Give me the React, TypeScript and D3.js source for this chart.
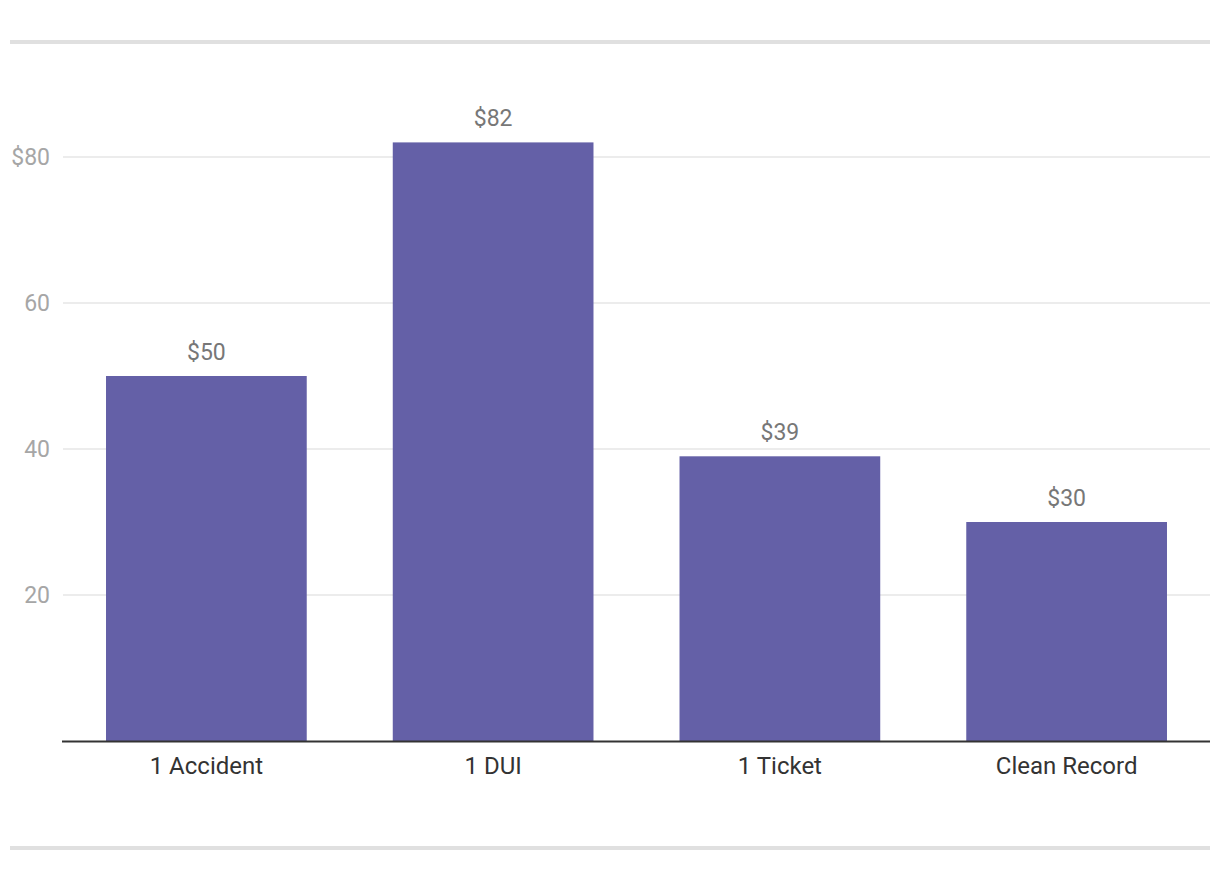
import React, { useEffect, useRef } from 'react';
import * as d3 from 'd3';

const categories = ['1 Accident', '1 DUI', '1 Ticket', 'Clean Record'];
const values = [50, 82, 39, 30];
const yTicks = [20, 40, 60, 80];

const App: React.FC = () => {
  const svgRef = useRef<SVGSVGElement>(null);

  useEffect(() => {
    if (!svgRef.current) return;
    const width = 1220;
    const height = 880;
    const svg = d3.select(svgRef.current);
    svg.selectAll('*').remove();

    const left = 63;
    const right = 1210;
    const baseY = 741;

    const x = d3.scaleBand<string>()
      .domain(categories)
      .range([left, right])
      .paddingInner(0.3)
      .paddingOuter(0.15);

    const y = d3.scaleLinear()
      .domain([0, 80])
      .range([baseY, 157]);

    // top and bottom rules
    svg.append('rect').attr('x', 10).attr('y', 40).attr('width', 1200).attr('height', 4).attr('fill', '#e0e0e0');
    svg.append('rect').attr('x', 10).attr('y', 846).attr('width', 1200).attr('height', 4).attr('fill', '#e0e0e0');

    // gridlines
    svg.append('g')
      .selectAll('line')
      .data(yTicks)
      .join('line')
      .attr('x1', left)
      .attr('x2', right)
      .attr('y1', d => y(d))
      .attr('y2', d => y(d))
      .attr('stroke', '#e6e6e6')
      .attr('stroke-width', 1.5);

    // y labels
    svg.append('g')
      .selectAll('text')
      .data(yTicks)
      .join('text')
      .attr('x', 50)
      .attr('y', d => y(d))
      .attr('dy', '0.35em')
      .attr('text-anchor', 'end')
      .attr('font-family', 'Roboto, sans-serif')
      .attr('font-size', 23)
      .attr('fill', '#a6a6a6')
      .text(d => (d === 80 ? `$${d}` : `${d}`));

    // bars
    svg.append('g')
      .selectAll('rect')
      .data(values)
      .join('rect')
      .attr('x', (d, i) => x(categories[i])!)
      .attr('y', d => y(d))
      .attr('width', x.bandwidth())
      .attr('height', d => baseY - y(d))
      .attr('fill', '#6460a7');

    // value labels
    svg.append('g')
      .selectAll('text')
      .data(values)
      .join('text')
      .attr('x', (d, i) => x(categories[i])! + x.bandwidth() / 2)
      .attr('y', d => y(d) - 16)
      .attr('text-anchor', 'middle')
      .attr('font-family', 'Roboto, sans-serif')
      .attr('font-size', 23)
      .attr('fill', '#777777')
      .text(d => `$${d}`);

    // x axis line
    svg.append('line')
      .attr('x1', 62)
      .attr('x2', right)
      .attr('y1', baseY + 0.5)
      .attr('y2', baseY + 0.5)
      .attr('stroke', '#333333')
      .attr('stroke-width', 2);

    // category labels
    svg.append('g')
      .selectAll('text')
      .data(categories)
      .join('text')
      .attr('x', d => x(d)! + x.bandwidth() / 2)
      .attr('y', 766)
      .attr('dy', '0.35em')
      .attr('text-anchor', 'middle')
      .attr('font-family', 'Roboto, sans-serif')
      .attr('font-size', 24)
      .attr('fill', '#333333')
      .text(d => d);

    svg.attr('width', width).attr('height', height);
  }, []);

  return (
    <svg
      ref={svgRef}
      width={1220}
      height={880}
      style={{ position: 'absolute', left: 0, top: 0, background: '#fff' }}
    />
  );
};

export default App;
